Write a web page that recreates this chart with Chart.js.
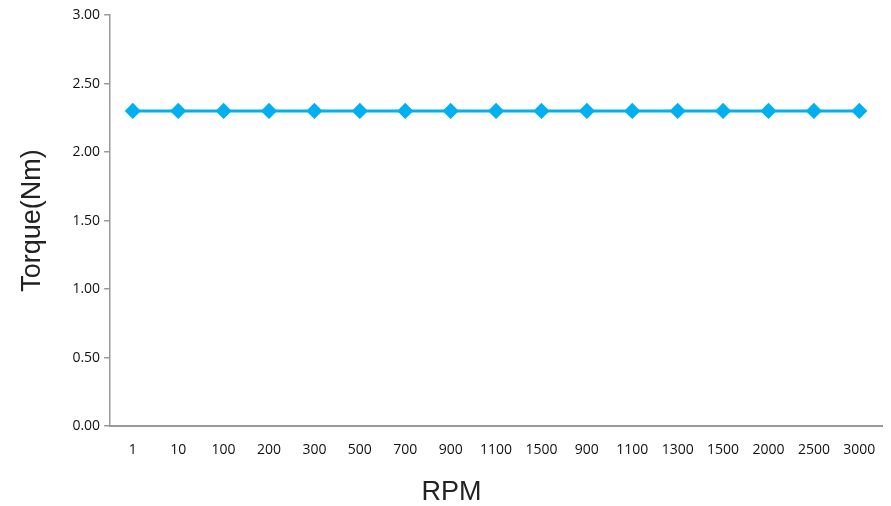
<!DOCTYPE html>
<html>
<head>
<meta charset="utf-8">
<script src="https://cdn.jsdelivr.net/npm/chart.js@4/dist/chart.umd.min.js"></script>
<style>
  html, body { margin: 0; padding: 0; background: #fff; }
  #wrap { width: 891px; height: 506px; }
</style>
</head>
<body>
<div id="wrap"><canvas id="torqueChart"></canvas></div>
<script>
const rpmLabels = ["1", "10", "100", "200", "300", "500", "700", "900", "1100", "1500", "900", "1100", "1300", "1500", "2000", "2500", "3000"];
const torqueValues = [2.3, 2.3, 2.3, 2.3, 2.3, 2.3, 2.3, 2.3, 2.3, 2.3, 2.3, 2.3, 2.3, 2.3, 2.3, 2.3, 2.3];
const yTicks = [0, 0.5, 1, 1.5, 2, 2.5, 3];

const ctx = document.getElementById('torqueChart').getContext('2d');
const torqueChart = new Chart(ctx, {
    type: 'line',
    data: {
        labels: rpmLabels,
        datasets: [{
            label: "Torque",
            data: torqueValues,
            borderColor: '#00B0F0',
            backgroundColor: '#00B0F0',
            borderWidth: 3,
            pointStyle: 'rectRot',
            pointRadius: 6,
            pointHoverRadius: 6,
            tension: 0
        }]
    },
    options: {
        responsive: true,
        maintainAspectRatio: false,
        animation: false,
        layout: { padding: { top: 15, right: 4, left: 16, bottom: 0 } },
        plugins: {
            legend: { display: false },
            tooltip: { enabled: false },
            // x title centred on the whole canvas, like the original
            title: {
                display: true,
                position: 'bottom',
                text: 'RPM',
                color: '#222',
                font: { family: 'Liberation Sans', size: 27, weight: 'normal', lineHeight: 1.0 },
                padding: { top: 14, bottom: 0 }
            }
        },
        scales: {
            x: {
                offset: true,
                grid: { display: false },
                border: { display: true, color: '#999', width: 2 },
                ticks: {
                    color: '#111',
                    font: { family: 'Open Sans', size: 14 },
                    padding: 7,
                    maxRotation: 0,
                    autoSkip: false
                }
            },
            y: {
                min: 0,
                max: 3,
                afterBuildTicks: axis => { axis.ticks = yTicks.map(v => ({ value: v })); },
                grid: { drawOnChartArea: false, drawTicks: true, tickLength: 6, color: '#999', lineWidth: 1.5 },
                border: { display: true, color: '#999', width: 1.5 },
                ticks: {
                    color: '#111',
                    font: { family: 'Open Sans', size: 14 },
                    padding: 4,
                    callback: v => Number(v).toFixed(2)
                },
                title: {
                    display: true,
                    text: 'Torque(Nm)',
                    color: '#222',
                    font: { family: 'Liberation Sans', size: 27 },
                    padding: { top: 0, bottom: 20 }
                }
            }
        }
    }
});
</script>
</body>
</html>
